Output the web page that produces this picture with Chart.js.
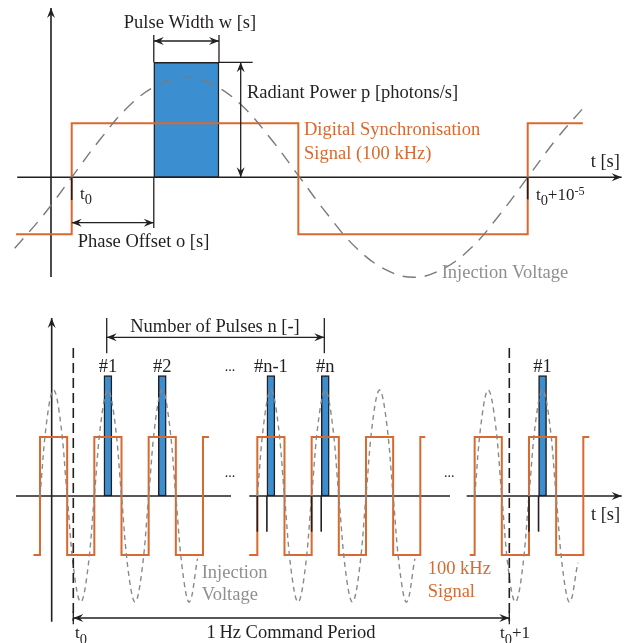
<!DOCTYPE html>
<html><head><meta charset="utf-8">
<script src="https://cdn.jsdelivr.net/npm/chart.js@4/dist/chart.umd.min.js"></script>
<style>html,body{margin:0;padding:0;background:#fff;overflow:hidden}canvas{display:block}</style>
</head><body>
<canvas id="c" width="629" height="643"></canvas>
<script>
// ---------------- DATA ----------------
// Top panel: time in microseconds after t0, amplitude relative to injection-voltage peak
const topSyncX = [-1.22, 0, 4.97, 10, 11.21];
const topSyncY = [-0.57, 0.54, -0.57, 0.54, 0.54];
const topSineX = [-1.25,-0.625,0,0.625,1.25,1.875,2.5,3.125,3.75,4.375,5,5.625,6.25,6.875,7.5,8.125,8.75,9.375,10,10.625,11.25];
const topSineY = [-0.71,-0.38,0,0.38,0.71,0.92,1,0.92,0.71,0.38,0,-0.38,-0.71,-0.92,-1,-0.92,-0.71,-0.38,0,0.38,0.71];
const topPulseStart = [1.8];
const topPulseWidth = [1.43];
const topPulsePower = [1.15];

// Bottom panel: time in 100 kHz carrier periods (with schematic breaks), same amplitude units
const botSyncX = [-0.12,0,0.5,1,1.5,2,2.5,3,3.11, 3.5, 3.85,4,4.5,5,5.5,6,6.5,7,7.09, 7.5, 7.91,8,8.5,9,9.5,10,10.11];
const botSyncY = [-0.557,0.557,-0.557,0.557,-0.557,0.557,-0.557,0.557,0.557, null,
                  -0.557,0.557,-0.557,0.557,-0.557,0.557,-0.557,0.557,0.557, null,
                  -0.557,0.557,-0.557,0.557,-0.557,0.557,0.557];
const botSineX = [0,0.125,0.25,0.375,0.5,0.625,0.75,0.875,1,1.125,1.25,1.375,1.5,1.625,1.75,1.875,2,2.125,2.25,2.375,2.5,2.625,2.75,2.9,
                  3.4,
                  4,4.125,4.25,4.375,4.5,4.625,4.75,4.875,5,5.125,5.25,5.375,5.5,5.625,5.75,5.875,6,6.125,6.25,6.375,6.5,6.625,6.75,6.9,
                  7.5,
                  8,8.125,8.25,8.375,8.5,8.625,8.75,8.875,9,9.125,9.25,9.375,9.5,9.625,9.75,9.9];
const botSineY = [0,0.71,1,0.71,0,-0.71,-1,-0.71,0,0.71,1,0.71,0,-0.71,-1,-0.71,0,0.71,1,0.71,0,-0.71,-1,-0.59,
                  null,
                  0,0.71,1,0.71,0,-0.71,-1,-0.71,0,0.71,1,0.71,0,-0.71,-1,-0.71,0,0.71,1,0.71,0,-0.71,-1,-0.59,
                  null,
                  0,0.71,1,0.71,0,-0.71,-1,-0.71,0,0.71,1,0.71,0,-0.71,-1,-0.63];
const botPulseCenter = [1.25, 2.25, 4.25, 5.25, 9.25];
const botPulseHeight = [1.135, 1.135, 1.135, 1.135, 1.135];
const botPulseLabels = ['#1', '#2', '#n-1', '#n', '#1'];
const botPulseWidth = [0.147];

// ---------------- STYLE / CALIBRATION ----------------
const W = 629, H = 643;
const INK = '#231f20', ORANGE = '#d9692e', BLUE = '#3b8fd0', GREY_LINE = '#7a7a7a', GREY_DOT = '#8a8a8a', GREY_TEXT = '#8f8f8f';
const FONT = '"Liberation Serif","Times New Roman",serif';
const FS = 18.5;
const RANGE = { xT: [-1.5724, 12.2215], yT: [-4.657, 1.773], xB: [-0.7362, 10.841], yB: [-1.387, 4.679] };
const pxPerT = W / (RANGE.xT[1] - RANGE.xT[0]);
const pxPerB = W / (RANGE.xB[1] - RANGE.xB[0]);

function line(ctx, x1, y1, x2, y2) { ctx.beginPath(); ctx.moveTo(x1, y1); ctx.lineTo(x2, y2); ctx.stroke(); }
function head(ctx, x, y, ang, L = 10, Wd = 4) {
  const c = Math.cos(ang), s = Math.sin(ang);
  ctx.beginPath(); ctx.moveTo(x, y);
  ctx.lineTo(x - L * c - Wd * s, y - L * s + Wd * c);
  ctx.lineTo(x - 0.65 * L * c, y - 0.65 * L * s);
  ctx.lineTo(x - L * c + Wd * s, y - L * s - Wd * c);
  ctx.closePath(); ctx.fill();
}
function arrow(ctx, x1, y1, x2, y2, both) {
  line(ctx, x1, y1, x2, y2);
  const a = Math.atan2(y2 - y1, x2 - x1);
  head(ctx, x2, y2, a);
  if (both) head(ctx, x1, y1, a + Math.PI);
}
function rich(ctx, parts, x, y, align, color, size) {
  const specs = parts.map(p => {
    const t = typeof p === 'string' ? p : p[0], k = typeof p === 'string' ? '' : p[1];
    const s = k === 'sub' ? size * 0.85 : k === 'sup' ? size * 0.72 : size;
    const dy = k === 'sub' ? size * 0.32 : k === 'sup' ? -size * 0.3 : 0;
    ctx.font = s + 'px ' + FONT;
    return { t, s, dy, w: ctx.measureText(t).width };
  });
  const total = specs.reduce((a, b) => a + b.w, 0);
  let cx = align === 'center' ? x - total / 2 : align === 'right' ? x - total : x;
  ctx.fillStyle = color; ctx.textAlign = 'left'; ctx.textBaseline = 'alphabetic';
  for (const sp of specs) { ctx.font = sp.s + 'px ' + FONT; ctx.fillText(sp.t, cx, y + sp.dy); cx += sp.w; }
}

// annotation texts (panel, x, y in data units, align, colour, size, parts)
const TEXTS = [
  ['T', 2.594, 1.49, 'center', INK, FS, ['Pulse Width w [s]']],
  ['T', 3.844, 0.79, 'left', INK, FS, ['Radiant Power p [photons/s]']],
  ['T', 5.094, 0.423, 'left', ORANGE, FS, ['Digital Synchronisation']],
  ['T', 5.094, 0.18, 'left', ORANGE, FS, ['Signal (100 kHz)']],
  ['T', 11.38, 0.106, 'left', INK, FS, ['t [s]']],
  ['T', 0.18, -0.217, 'left', INK, 17, ['t', ['0', 'sub']]],
  ['T', 10.18, -0.227, 'left', INK, 17, ['t', ['0', 'sub'], '+10', ['-5', 'sup']]],
  ['T', 0.13, -0.694, 'left', INK, FS, ['Phase Offset o [s]']],
  ['T', 8.114, -1.01, 'left', GREY_TEXT, FS, ['Injection Voltage']],
  ['B', 3.221, 1.55, 'center', INK, FS, ['Number of Pulses n [-]']],
  ['B', 3.497, 1.18, 'center', INK, 14, ['...']],
  ['B', 3.497, 0.18, 'center', INK, 14, ['...']],
  ['B', 7.534, 0.18, 'center', INK, 14, ['...']],
  ['B', 2.976, -0.771, 'left', GREY_TEXT, FS, ['Injection']],
  ['B', 2.976, -0.981, 'left', GREY_TEXT, FS, ['Voltage']],
  ['B', 7.136, -0.736, 'left', ORANGE, FS, ['100 kHz']],
  ['B', 7.136, -0.95, 'left', ORANGE, FS, ['Signal']],
  ['B', 10.14, -0.226, 'left', INK, FS, ['t [s]']],
  ['B', 0.644, -1.342, 'left', INK, 17, ['t', ['0', 'sub']]],
  ['B', 4.62, -1.342, 'center', INK, FS, ['1\u2009Hz Command Period']],
  ['B', 8.466, -1.342, 'left', INK, 17, ['t', ['0', 'sub'], '+1']],
];

const schematic = {
  id: 'schematic',
  beforeDatasetsDraw(chart) {
    const ctx = chart.ctx, s = chart.scales;
    const X = (p, v) => s['x' + p].getPixelForValue(v), Y = (p, v) => s['y' + p].getPixelForValue(v);
    ctx.save();
    ctx.strokeStyle = INK; ctx.fillStyle = INK; ctx.lineWidth = 1.6;
    // top axes
    arrow(ctx, X('T', -0.454), Y('T', -0.998), X('T', -0.454), Y('T', 1.693));
    arrow(ctx, X('T', -1.195), Y('T', 0), X('T', 12.06), Y('T', 0));
    // bottom axes
    arrow(ctx, X('B', 0.215), Y('B', -1.186), X('B', 0.215), Y('B', 1.679));
    line(ctx, X('B', -0.442), Y('B', 0), X('B', 3.516), Y('B', 0));
    line(ctx, X('B', 3.852), Y('B', 0), X('B', 7.546), Y('B', 0));
    arrow(ctx, X('B', 7.854), Y('B', 0), X('B', 10.707), Y('B', 0));
    ctx.restore();
  },
  afterDatasetsDraw(chart) {
    const ctx = chart.ctx, s = chart.scales;
    const X = (p, v) => s['x' + p].getPixelForValue(v), Y = (p, v) => s['y' + p].getPixelForValue(v);
    ctx.save();
    ctx.strokeStyle = INK; ctx.fillStyle = INK; ctx.lineWidth = 1.6;
    // top: t0 ticks
    line(ctx, X('T', 0), Y('T', 0), X('T', 0), Y('T', -0.227));
    line(ctx, X('T', 10), Y('T', 0), X('T', 10), Y('T', -0.22));
    ctx.lineWidth = 1.3;
    const p0 = topPulseStart[0], p1 = topPulseStart[0] + topPulseWidth[0], ph = topPulsePower[0];
    // pulse width dimension
    line(ctx, X('T', p0), Y('T', ph), X('T', p0), Y('T', 1.423));
    line(ctx, X('T', p1), Y('T', ph), X('T', p1), Y('T', 1.423));
    arrow(ctx, X('T', p0), Y('T', 1.363), X('T', p1), Y('T', 1.363), true);
    // radiant power dimension
    line(ctx, X('T', p1), Y('T', ph), X('T', 3.969), Y('T', ph));
    arrow(ctx, X('T', 3.706), Y('T', 0), X('T', 3.706), Y('T', ph), true);
    // phase offset
    line(ctx, X('T', p0), Y('T', 0), X('T', p0), Y('T', -0.507));
    arrow(ctx, X('T', 0), Y('T', -0.454), X('T', p0), Y('T', -0.454), true);

    // bottom: ticks under rises and pulses
    ctx.lineWidth = 1.6;
    [4, 4.176, 5, 5.176, 9, 9.176].forEach(v => line(ctx, X('B', v), Y('B', 0), X('B', v), Y('B', -0.337)));
    // number of pulses dimension
    ctx.lineWidth = 1.3;
    line(ctx, X('B', 1.228), Y('B', 1.679), X('B', 1.228), Y('B', 1.346));
    line(ctx, X('B', 5.233), Y('B', 1.679), X('B', 5.233), Y('B', 1.346));
    arrow(ctx, X('B', 1.228), Y('B', 1.497), X('B', 5.233), Y('B', 1.497), true);
    // command period dashed markers
    ctx.lineWidth = 1.6; ctx.setLineDash([10, 5]);
    line(ctx, X('B', 0.613), Y('B', 1.396), X('B', 0.613), Y('B', -1.18));
    line(ctx, X('B', 8.638), Y('B', 1.396), X('B', 8.638), Y('B', -1.18));
    ctx.setLineDash([]); ctx.lineWidth = 1.3;
    line(ctx, X('B', 0.613), Y('B', -1.09), X('B', 0.613), Y('B', -1.21));
    line(ctx, X('B', 8.638), Y('B', -1.09), X('B', 8.638), Y('B', -1.21));
    arrow(ctx, X('B', 0.613), Y('B', -1.151), X('B', 8.638), Y('B', -1.151), true);

    // texts
    for (const [p, x, y, al, col, sz, parts] of TEXTS) rich(ctx, parts, X(p, x), Y(p, y), al, col, sz);
    botPulseCenter.forEach((c, i) => rich(ctx, [botPulseLabels[i]], X('B', c), Y('B', 1.173), 'center', INK, FS));
    ctx.restore();
  }
};

const pts = (xs, ys) => xs.map((x, i) => ({ x, y: ys[i] }));
const axis = r => ({ type: 'linear', display: false, offset: false, bounds: 'data', min: r[0], max: r[1], grid: { display: false, offset: false }, ticks: { display: false } });

new Chart(document.getElementById('c'), {
  type: 'line',
  data: {
    datasets: [
      { type: 'line', label: 'Injection Voltage', xAxisID: 'xT', yAxisID: 'yT', data: pts(topSineX, topSineY),
        borderColor: GREY_LINE, borderWidth: 1.4, borderDash: [13, 9], pointRadius: 0, tension: 0.4, fill: false, order: 1 },
      { type: 'line', label: 'Digital Synchronisation Signal', xAxisID: 'xT', yAxisID: 'yT', data: pts(topSyncX, topSyncY),
        borderColor: ORANGE, borderWidth: 2, stepped: true, pointRadius: 0, fill: false, order: 2 },
      { type: 'bar', label: 'Pulse', xAxisID: 'xT', yAxisID: 'yT',
        data: topPulseStart.map((st, i) => ({ x: st + topPulseWidth[i] / 2, y: [0, topPulsePower[i]] })),
        backgroundColor: BLUE, borderColor: INK, borderWidth: 1.5, borderSkipped: false, grouped: false,
        barThickness: topPulseWidth[0] * pxPerT, order: 3 },
      { type: 'line', label: 'Injection Voltage (train)', xAxisID: 'xB', yAxisID: 'yB', data: pts(botSineX, botSineY),
        borderColor: GREY_DOT, borderWidth: 1.4, borderDash: [5, 4], pointRadius: 0, tension: 0.4, fill: false, spanGaps: false, order: 1 },
      { type: 'line', label: '100 kHz Signal', xAxisID: 'xB', yAxisID: 'yB', data: pts(botSyncX, botSyncY),
        borderColor: ORANGE, borderWidth: 2, stepped: true, pointRadius: 0, fill: false, spanGaps: false, order: 2 },
      { type: 'bar', label: 'Pulses', xAxisID: 'xB', yAxisID: 'yB',
        data: botPulseCenter.map((c, i) => ({ x: c, y: [0, botPulseHeight[i]] })),
        backgroundColor: BLUE, borderColor: INK, borderWidth: 1.5, borderSkipped: false, grouped: false,
        barThickness: botPulseWidth[0] * pxPerB, order: 3 }
    ]
  },
  options: {
    responsive: false, animation: false, devicePixelRatio: 1, events: [],
    layout: { padding: 0 },
    plugins: { legend: { display: false }, tooltip: { enabled: false }, title: { display: false } },
    scales: { xT: axis(RANGE.xT), yT: axis(RANGE.yT), xB: axis(RANGE.xB), yB: axis(RANGE.yB) }
  },
  plugins: [schematic]
});
</script>
</body></html>
